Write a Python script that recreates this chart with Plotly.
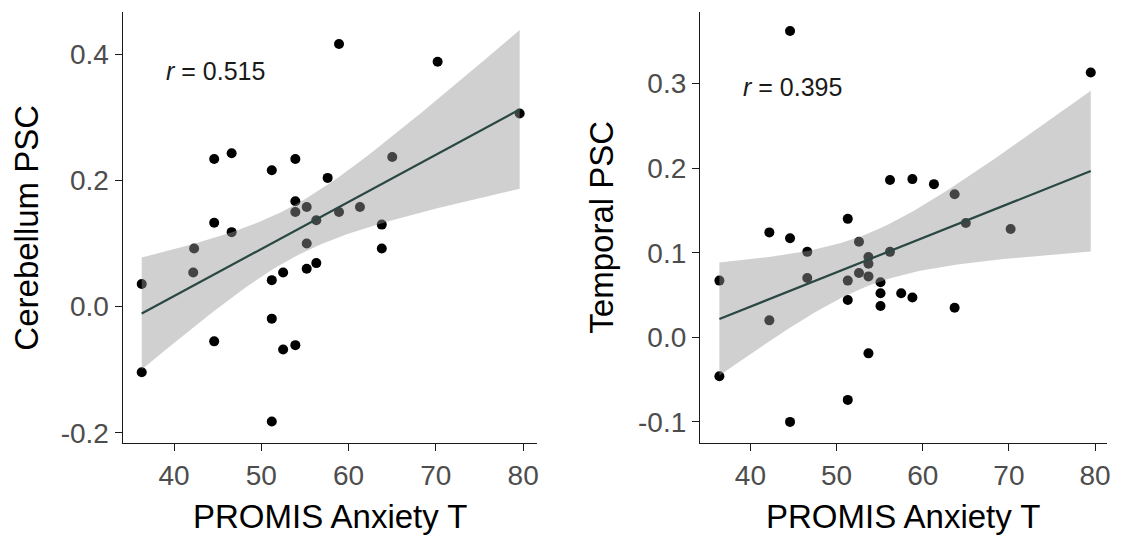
import numpy as np
import plotly.graph_objects as go

# ---------------- data ----------------
cereb_anxiety = [58.9, 70.2, 79.6, 44.6, 46.6, 51.2, 53.9, 57.6, 65.0, 53.9, 53.9,
                 55.2, 58.9, 61.3, 56.3, 44.6, 46.6, 63.8, 55.2, 63.8, 42.3, 42.2,
                 52.5, 55.2, 56.3, 51.2, 36.3, 51.2, 44.6, 52.5, 53.9, 36.3, 51.2]
cereb_psc = [0.416, 0.388, 0.306, 0.234, 0.243, 0.216, 0.234, 0.204, 0.237, 0.167, 0.150,
             0.158, 0.150, 0.158, 0.137, 0.133, 0.118, 0.130, 0.100, 0.092, 0.092, 0.054,
             0.054, 0.060, 0.069, 0.042, 0.036, -0.019, -0.055, -0.068, -0.061, -0.104, -0.182]

temp_anxiety = [36.4, 36.4, 42.2, 42.2, 44.6, 44.6, 44.6, 46.6, 46.6, 51.3, 51.3,
                51.3, 51.3, 52.6, 52.6, 53.7, 53.7, 53.7, 53.7, 55.1, 55.1, 55.1,
                56.2, 56.2, 57.5, 58.8, 58.8, 61.3, 63.7, 63.7, 65.0, 70.2, 79.5]
temp_psc = [0.067, -0.046, 0.124, 0.020, 0.362, 0.117, -0.100, 0.101, 0.070, 0.140, 0.067,
            0.044, -0.074, 0.113, 0.076, 0.095, 0.087, 0.072, -0.019, 0.065, 0.052, 0.037,
            0.186, 0.101, 0.052, 0.187, 0.047, 0.181, 0.169, 0.035, 0.135, 0.128, 0.313]

r_labels = ["0.515", "0.395"]
y_titles = ["Cerebellum PSC", "Temporal PSC"]
x_title = "PROMIS Anxiety T"
x_ticks = [40, 50, 60, 70, 80]
cereb_yticks = [-0.2, 0.0, 0.2, 0.4]
cereb_yticklabels = ["-0.2", "0.0", "0.2", "0.4"]
temp_yticks = [-0.1, 0.0, 0.1, 0.2, 0.3]
temp_yticklabels = ["-0.1", "0.0", "0.1", "0.2", "0.3"]

# ---------------- linear fit with 95% CI (like geom_smooth(method="lm")) ----------------
T_CRIT = 2.0395  # t(0.975, df=31)


def lm_band(x, y):
    x = np.asarray(x, float)
    y = np.asarray(y, float)
    n = len(x)
    xm, ym = x.mean(), y.mean()
    sxx = ((x - xm) ** 2).sum()
    b1 = ((x - xm) * (y - ym)).sum() / sxx
    b0 = ym - b1 * xm
    s = np.sqrt(((y - (b0 + b1 * x)) ** 2).sum() / (n - 2))
    xs = np.linspace(x.min(), x.max(), 80)
    fit = b0 + b1 * xs
    se = s * np.sqrt(1.0 / n + (xs - xm) ** 2 / sxx)
    return xs, fit, fit - T_CRIT * se, fit + T_CRIT * se


FONT = "Liberation Sans, Arial, sans-serif"
LINE_COL = "#2a4744"
BAND_COL = "rgba(150,150,150,0.45)"

fig = go.Figure()

panels = [
    (cereb_anxiety, cereb_psc, "x", "y"),
    (temp_anxiety, temp_psc, "x2", "y2"),
]
for xv, yv, xa, ya in panels:
    fig.add_trace(go.Scatter(x=xv, y=yv, mode="markers", xaxis=xa, yaxis=ya,
                             marker=dict(color="black", size=10), showlegend=False,
                             hoverinfo="skip"))
    xs, fit, lo, hi = lm_band(xv, yv)
    fig.add_trace(go.Scatter(x=np.concatenate([xs, xs[::-1]]),
                             y=np.concatenate([hi, lo[::-1]]),
                             fill="toself", fillcolor=BAND_COL, line=dict(width=0),
                             mode="lines", xaxis=xa, yaxis=ya, showlegend=False,
                             hoverinfo="skip"))
    fig.add_trace(go.Scatter(x=xs, y=fit, mode="lines", xaxis=xa, yaxis=ya,
                             line=dict(color=LINE_COL, width=2.2), showlegend=False,
                             hoverinfo="skip"))

# The page body adds an 8px margin, so the figure is drawn 8px smaller and all
# window-pixel positions are shifted by that offset.
OFF = 8
W, H = 1124 - OFF, 545 - OFF


def fx(px):
    return (px - OFF) / W


def fy(py):
    return 1 - (py - OFF) / H


left_px = [(122.7, 536.7), (700.0, 1106.7)]
top_px, bot_px = 12.0, 443.3
ydom = [fy(bot_px), fy(top_px)]

axis_common = dict(
    showgrid=False, zeroline=False, showline=True, linecolor="#1a1a1a", linewidth=1.3,
    ticks="outside", ticklen=7, tickwidth=1.3, tickcolor="#1a1a1a",
    tickfont=dict(family=FONT, size=28, color="#4d4d4d"), automargin=False,
    fixedrange=True,
)

fig.update_layout(
    width=W, height=H,
    margin=dict(l=0, r=0, t=0, b=0),
    paper_bgcolor="white", plot_bgcolor="white",
    font=dict(family=FONT),
    xaxis=dict(domain=[fx(left_px[0][0]), fx(left_px[0][1])], range=[34.12, 81.55],
               tickvals=x_ticks, anchor="y", **axis_common),
    yaxis=dict(domain=ydom, range=[-0.2165, 0.4668], tickvals=cereb_yticks,
               ticktext=cereb_yticklabels, anchor="x", **axis_common),
    xaxis2=dict(domain=[fx(left_px[1][0]), fx(left_px[1][1])], range=[34.15, 81.35],
                tickvals=x_ticks, anchor="y2", **axis_common),
    yaxis2=dict(domain=ydom, range=[-0.1253, 0.3845], tickvals=temp_yticks,
                ticktext=temp_yticklabels, anchor="x2", **axis_common),
)

annotations = []
# axis titles
for i, (x0, x1) in enumerate(left_px):
    annotations.append(dict(text=x_title, xref="paper", yref="paper",
                            x=fx((x0 + x1) / 2), y=fy(516), showarrow=False,
                            font=dict(family=FONT, size=33, color="black"),
                            xanchor="center", yanchor="middle"))
ytitle_x = [27, 602]
for i in range(2):
    annotations.append(dict(text=y_titles[i], xref="paper", yref="paper",
                            x=fx(ytitle_x[i]), y=fy((top_px + bot_px) / 2),
                            textangle=-90, showarrow=False,
                            font=dict(family=FONT, size=33, color="black"),
                            xanchor="center", yanchor="middle"))
# correlation labels
annotations.append(dict(text="<i>r</i> = " + r_labels[0], xref="x", yref="y",
                        x=44.8, y=0.373, showarrow=False,
                        font=dict(family=FONT, size=25, color="#1a1a1a")))
annotations.append(dict(text="<i>r</i> = " + r_labels[1], xref="x2", yref="y2",
                        x=44.9, y=0.296, showarrow=False,
                        font=dict(family=FONT, size=25, color="#1a1a1a")))
fig.update_layout(annotations=annotations)

fig.write_html("out.html")
